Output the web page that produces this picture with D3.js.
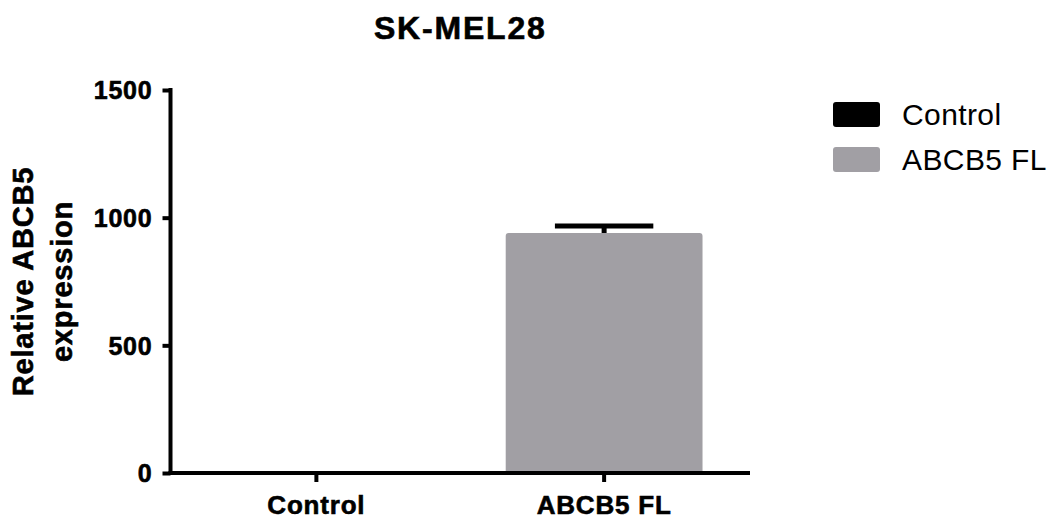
<!DOCTYPE html>
<html>
<head>
<meta charset="utf-8">
<script src="https://cdn.jsdelivr.net/npm/d3@7"></script>
<style>
  html, body { margin: 0; padding: 0; background: #fff; }
  svg { display: block; font-family: "Liberation Sans", Arial, Helvetica, sans-serif; }
  .heavy { font-weight: bold; stroke: #000; stroke-width: 0.6px; paint-order: stroke; }
</style>
</head>
<body>
<svg id="chart" width="1054" height="520"></svg>
<script>
// Relative ABCB5 expression in SK-MEL28 cells
const groups = ["Control", "ABCB5 FL"];
const means = [1, 940];
const errors = [0, 27];
const colors = ["#000000", "#a19fa4"];
const yTicks = [0, 500, 1000, 1500];

const svg = d3.select("#chart");
const plot = { left: 170.5, right: 750, top: 90, bottom: 473 };

const x = d3.scaleBand()
  .domain(groups)
  .range([plot.left, plot.right])
  .paddingInner(0.316)
  .paddingOuter(0.165);

const y = d3.scaleLinear()
  .domain([0, 1500])
  .range([plot.bottom, plot.top]);

// Title
svg.append("text")
  .attr("class", "heavy")
  .attr("x", (plot.left + plot.right) / 2)
  .attr("y", 39)
  .attr("text-anchor", "middle")
  .attr("font-size", 32)
  .attr("letter-spacing", 1.8)
  .text("SK-MEL28");

// Bars with slightly rounded top corners
function barPath(x0, w, yTop, yBase, r) {
  const h = yBase - yTop;
  const rr = Math.min(r, h / 2, w / 2);
  return `M${x0},${yBase} L${x0},${yTop + rr} Q${x0},${yTop} ${x0 + rr},${yTop}` +
         ` L${x0 + w - rr},${yTop} Q${x0 + w},${yTop} ${x0 + w},${yTop + rr}` +
         ` L${x0 + w},${yBase} Z`;
}

const data = groups.map((g, i) => ({ g, mean: means[i], err: errors[i], color: colors[i] }));

svg.append("g").selectAll("path")
  .data(data)
  .join("path")
  .attr("d", d => barPath(x(d.g), x.bandwidth(), y(d.mean), y(0), 3))
  .attr("fill", d => d.color);

// Error bars (upper only)
const eb = svg.append("g").attr("stroke", "#000").attr("stroke-width", 5);
data.filter(d => d.err > 0).forEach(d => {
  const cx = x(d.g) + x.bandwidth() / 2;
  const half = x.bandwidth() / 4;
  eb.append("line")
    .attr("x1", cx).attr("x2", cx)
    .attr("y1", y(d.mean)).attr("y2", y(d.mean + d.err));
  eb.append("line")
    .attr("x1", cx - half).attr("x2", cx + half)
    .attr("y1", y(d.mean + d.err)).attr("y2", y(d.mean + d.err));
});

// Y axis
const yAxis = svg.append("g")
  .attr("transform", `translate(${plot.left},0)`)
  .call(d3.axisLeft(y).tickValues(yTicks).tickSize(8).tickPadding(10).tickFormat(d3.format("d")));
yAxis.select(".domain").attr("d", `M0,${plot.top - 2}V${plot.bottom + 2}`)
  .attr("stroke", "#000").attr("stroke-width", 4);
yAxis.selectAll(".tick line").attr("stroke", "#000").attr("stroke-width", 4);
yAxis.selectAll(".tick text")
  .attr("class", "heavy")
  .attr("font-size", 25)
  .attr("font-family", "Liberation Sans, Arial, sans-serif")
  .attr("letter-spacing", 0.8)
  .attr("fill", "#000")
  .attr("dy", "0.355em");

// X axis
const xAxis = svg.append("g")
  .attr("transform", `translate(0,${plot.bottom})`)
  .call(d3.axisBottom(x).tickSize(9).tickPadding(14));
xAxis.select(".domain").attr("d", `M${plot.left - 2},0H${plot.right}`)
  .attr("stroke", "#000").attr("stroke-width", 4);
xAxis.selectAll(".tick line").attr("stroke", "#000").attr("stroke-width", 4);
xAxis.selectAll(".tick text")
  .attr("class", "heavy")
  .attr("font-size", 26)
  .attr("font-family", "Liberation Sans, Arial, sans-serif")
  .attr("letter-spacing", 0.8)
  .attr("fill", "#000")
  .attr("dy", "0.71em");

// Y axis title (two lines)
const yTitle = svg.append("text")
  .attr("class", "heavy")
  .attr("transform", `translate(0,${(plot.top + plot.bottom) / 2}) rotate(-90)`)
  .attr("text-anchor", "middle")
  .attr("font-size", 29)
  .attr("letter-spacing", 0.8);
yTitle.append("tspan").attr("x", 0).attr("y", 33).text("Relative ABCB5");
yTitle.append("tspan").attr("x", 0).attr("y", 72).text("expression");

// Legend
const legend = svg.append("g").attr("transform", "translate(833,102)");
const li = legend.selectAll("g")
  .data(data)
  .join("g")
  .attr("transform", (d, i) => `translate(0,${i * 45})`);
li.append("rect")
  .attr("width", 47).attr("height", 25)
  .attr("rx", 3).attr("ry", 3)
  .attr("fill", d => d.color);
li.append("text")
  .attr("x", 69)
  .attr("y", 23)
  .attr("font-size", 30)
  .attr("letter-spacing", 0.4)
  .text(d => d.g);
</script>
</body>
</html>
